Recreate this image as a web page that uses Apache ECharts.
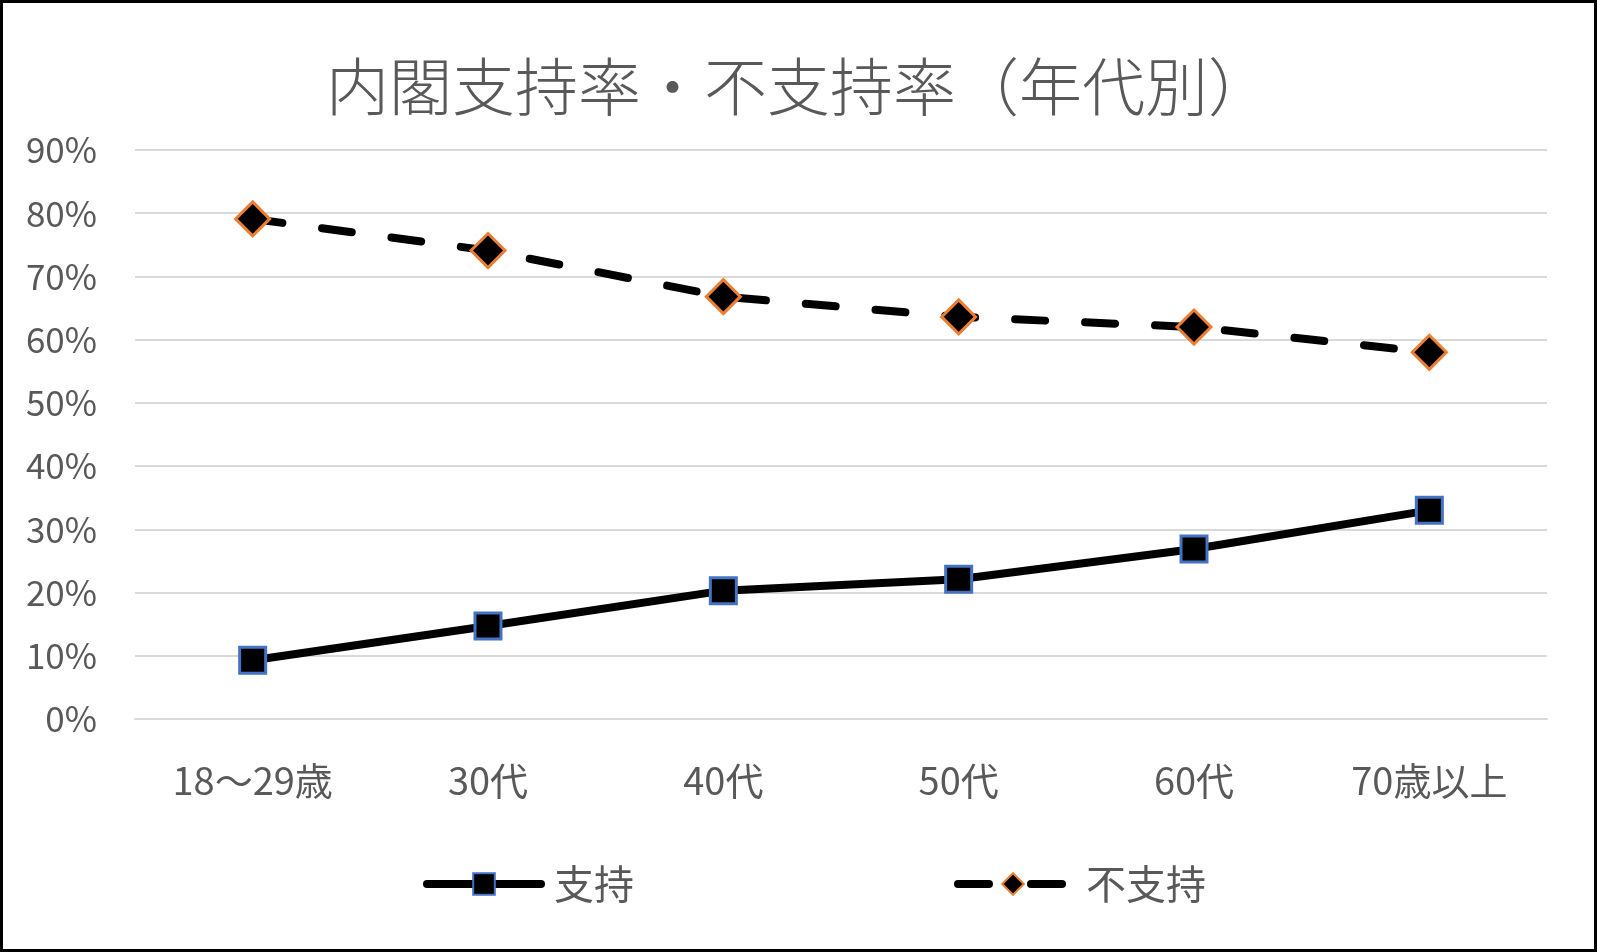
<!DOCTYPE html>
<html><head><meta charset="utf-8">
<script src="https://cdn.jsdelivr.net/npm/echarts@6/dist/echarts.min.js"></script>
<style>
html,body{margin:0;padding:0;background:#fff;}
#c{width:1597px;height:952px;}
#b{position:absolute;left:0;top:0;width:1597px;height:952px;box-sizing:border-box;border:3px solid #000;pointer-events:none;}
</style></head>
<body><div id="c"></div><div id="b"></div>
<script>
const categories = ['18〜29歳','30代','40代','50代','60代','70歳以上'];
const support = [9.3, 14.7, 20.3, 22.1, 26.9, 33.0];
const nonSupport = [79.1, 74.1, 66.8, 63.6, 62.0, 58.0];
const titleText = '内閣支持率・不支持率（年代別）';
const seriesNames = ['支持','不支持'];

const font = '"Noto Sans CJK JP","Noto Sans",sans-serif';
const legendText = {fontFamily:font,fontSize:40,color:'#595959'};
const chart = echarts.init(document.getElementById('c'));
chart.setOption({
  animation:false,
  title:{text:titleText,left:'center',top:50,textStyle:{fontFamily:font,fontSize:63,fontWeight:300,color:'#595959'}},
  grid:{left:135,right:50,top:150,bottom:233},
  legend:[
    {left:418,top:859,itemWidth:114,itemHeight:27,itemGap:0,
     textStyle:Object.assign({padding:[0,0,0,8]},legendText),
     lineStyle:{width:8,cap:'round'},
     data:[seriesNames[0]]},
    {left:949,top:859,itemWidth:110,itemHeight:27,itemGap:0,
     textStyle:Object.assign({padding:[0,0,0,13]},legendText),
     lineStyle:{width:8,type:[31,42],cap:'round'},
     data:[seriesNames[1]]}
  ],
  xAxis:{type:'category',data:categories,boundaryGap:true,
    axisLine:{lineStyle:{color:'#d9d9d9',width:2}},axisTick:{show:false},
    axisLabel:{margin:43,fontFamily:font,fontSize:38,color:'#595959'}},
  yAxis:{type:'value',min:0,max:90,interval:10,
    axisLine:{show:false},axisTick:{show:false},
    splitLine:{lineStyle:{color:'#d9d9d9',width:2}},
    axisLabel:{margin:38,formatter:'{value}%',fontFamily:font,fontSize:35,color:'#595959'}},
  series:[
    {name:seriesNames[0],type:'line',data:support,symbol:'rect',symbolSize:26,
     lineStyle:{color:'#000',width:8},
     itemStyle:{color:'#000',borderColor:'#4472C4',borderWidth:3}},
    {name:seriesNames[1],type:'line',data:nonSupport,symbol:'diamond',symbolSize:34,
     lineStyle:{color:'#000',width:8,type:[30,40],cap:'round'},
     itemStyle:{color:'#000',borderColor:'#ED7D31',borderWidth:3}}
  ]
});
</script></body></html>
